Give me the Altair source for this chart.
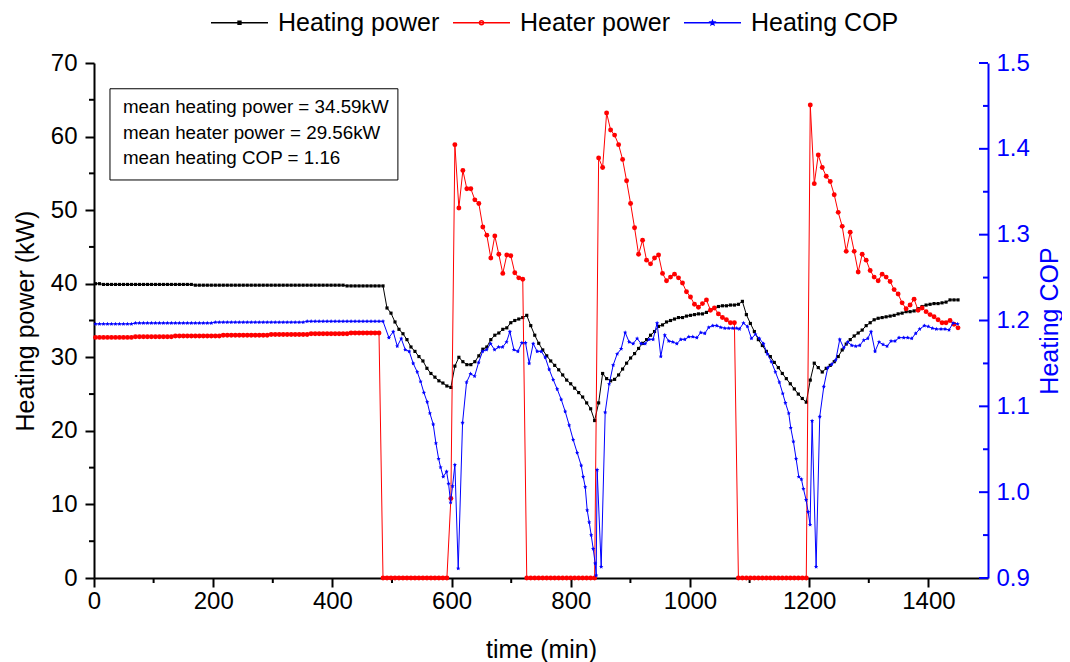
import altair as alt
import pandas as pd

# ---------------- data ----------------
SERIES = ["Heating power", "Heater power", "Heating COP"]
COLORS = ["black", "red", "blue"]

# logger sampling (min) for heating / heater power
T_START = 2.5
T_STEP = 6.7

HEATING_POWER = [
    40.0, 40.0, 39.9, 39.9, 39.9, 39.9, 39.9, 39.9, 39.9, 39.9,
    39.9, 39.9, 39.9, 39.9, 39.9, 39.9, 39.9, 39.9, 39.9, 39.9,
    39.9, 39.9, 39.9, 39.9, 39.9, 39.8, 39.8, 39.8, 39.8, 39.8,
    39.8, 39.8, 39.8, 39.8, 39.8, 39.8, 39.8, 39.8, 39.8, 39.8,
    39.8, 39.8, 39.8, 39.8, 39.8, 39.8, 39.8, 39.8, 39.8, 39.8,
    39.8, 39.8, 39.8, 39.8, 39.8, 39.8, 39.8, 39.8, 39.8, 39.8,
    39.8, 39.8, 39.8, 39.7, 39.7, 39.7, 39.7, 39.7, 39.7, 39.7,
    39.7, 39.7, 39.7,
    36.7, 36.0, 34.8, 33.8, 33.2, 32.4, 31.4, 30.8, 30.1, 29.5,
    28.5, 27.8, 27.3, 26.8, 26.5, 26.1, 25.9, 28.8, 30.0, 29.4,
    29.0, 29.0, 29.4, 30.2, 31.1, 31.4, 32.4, 33.0, 33.3, 33.8,
    34.0, 34.7, 35.0, 35.2, 35.4, 35.7, 34.3, 33.0, 31.9, 31.0,
    30.2, 29.5, 28.9, 28.3, 27.6, 26.9, 26.4, 25.8, 25.2, 24.6,
    23.8, 23.0, 21.4, 23.8, 27.8, 27.1, 26.8, 27.0, 27.6, 28.4,
    29.2, 29.9, 30.5, 31.2, 31.9, 32.4, 33.0, 33.5, 34.2, 34.4,
    34.8, 35.0, 35.2, 35.4, 35.4, 35.6, 35.7, 35.8, 35.9, 35.9,
    36.1, 36.4, 36.7, 36.9, 37.0, 37.0, 37.1, 37.1, 37.2, 37.6,
    35.8, 34.6, 33.5, 32.4, 31.6, 30.8, 30.1, 29.3, 28.6, 27.8,
    27.1, 26.4, 25.7, 25.0, 24.4, 23.9, 26.9, 29.2, 28.6, 28.0,
    28.5, 28.9, 29.4, 30.1, 31.0, 31.8, 32.4, 32.9, 33.3, 33.7,
    34.3, 34.7, 35.1, 35.3, 35.4, 35.5, 35.6, 35.7, 35.9, 36.0,
    36.2, 36.2, 36.3, 36.6, 36.9, 37.1, 37.2, 37.3, 37.3, 37.4,
    37.5, 37.8, 37.8, 37.8,
]

HEATER_POWER = [
    32.7, 32.7, 32.7, 32.7, 32.7, 32.7, 32.7, 32.7, 32.7, 32.7,
    32.8, 32.8, 32.8, 32.8, 32.8, 32.8, 32.8, 32.8, 32.8, 32.8,
    32.9, 32.9, 32.9, 32.9, 32.9, 32.9, 32.9, 32.9, 32.9, 32.9, 32.9, 32.9,
    33.0, 33.0, 33.0, 33.0, 33.0, 33.0, 33.0, 33.0, 33.0, 33.0, 33.0, 33.0,
    33.1, 33.1, 33.1, 33.1, 33.1, 33.1, 33.1, 33.1, 33.1, 33.1,
    33.2, 33.2, 33.2, 33.2, 33.2, 33.2, 33.2, 33.2, 33.2, 33.2,
    33.3, 33.3, 33.3, 33.3, 33.3, 33.3, 33.3, 33.3,
    0.0, 0.0, 0.0, 0.0, 0.0, 0.0, 0.0, 0.0, 0.0, 0.0,
    0.0, 0.0, 0.0, 0.0, 0.0, 0.0, 0.0,
    10.8, 58.9, 50.3, 55.4, 52.9, 52.9, 51.4, 50.9, 47.7, 46.6,
    43.5, 46.5, 44.0, 41.4, 43.9, 43.8, 41.5, 40.8, 40.6,
    0.0, 0.0, 0.0, 0.0, 0.0, 0.0, 0.0, 0.0, 0.0, 0.0,
    0.0, 0.0, 0.0, 0.0, 0.0, 0.0, 0.0, 0.0,
    57.1, 55.8, 63.2, 60.9, 60.2, 58.9, 56.9, 54.0, 50.9, 47.6,
    44.0, 45.9, 43.2, 42.7, 43.5, 43.9, 41.4, 40.4, 40.9, 41.3,
    40.8, 40.1, 38.9, 38.2, 37.2, 36.8, 37.3, 37.8, 36.4, 36.7,
    35.9, 35.4, 35.1, 34.7, 34.7,
    0.0, 0.0, 0.0, 0.0, 0.0, 0.0, 0.0, 0.0, 0.0, 0.0,
    0.0, 0.0, 0.0, 0.0, 0.0, 0.0, 0.0, 0.0,
    64.3, 53.6, 57.5, 55.8, 54.6, 53.9, 52.1, 49.7, 47.8, 44.4,
    47.0, 44.4, 41.6, 44.0, 43.2, 41.8, 40.9, 40.4, 41.3, 40.9,
    40.3, 39.2, 38.6, 37.4, 36.6, 37.1, 37.9, 36.4, 36.7, 36.2,
    35.8, 35.5, 35.1, 34.7, 34.7, 35.0, 34.5, 34.0,
]

COP_STEADY = [
    1.196, 1.196, 1.196, 1.196, 1.196, 1.196, 1.196, 1.196, 1.196, 1.196,
    1.197, 1.197, 1.197, 1.197, 1.197, 1.197, 1.197, 1.197, 1.197, 1.197,
    1.197, 1.197, 1.197, 1.197, 1.197, 1.197, 1.197, 1.197, 1.197, 1.197,
    1.198, 1.198, 1.198, 1.198, 1.198, 1.198, 1.198, 1.198, 1.198, 1.198,
    1.198, 1.198, 1.198, 1.198, 1.198, 1.198, 1.198, 1.198, 1.198, 1.198,
    1.198, 1.198, 1.198,
    1.199, 1.199, 1.199, 1.199, 1.199, 1.199, 1.199, 1.199, 1.199, 1.199,
    1.199, 1.199, 1.199, 1.199, 1.199, 1.199, 1.199, 1.199, 1.199, 1.199,
]

COP_TIME = [
    494.8, 502.1, 508.8, 515.5, 522.2, 528.9, 535.6, 542.4, 548.0, 553.5,
    559.1, 563.6, 569.2, 573.7, 578.2, 581.5, 586.0, 591.6, 594.9, 598.3,
    601.6, 605.5, 611.1, 618.4, 625.1, 631.8, 638.6, 645.3, 652.0, 658.7,
    665.4, 672.1, 678.8, 685.5, 692.2, 697.8, 704.5, 711.2, 717.9, 724.0,
    730.2, 736.9, 743.6, 750.4, 757.1, 763.8, 770.5, 777.2, 783.9, 790.6,
    797.3, 804.0, 810.7, 817.5, 820.8, 824.2, 827.5, 830.9, 834.2, 837.6,
    840.9, 842.6, 844.2, 851.0, 857.7, 864.4, 871.1, 877.8, 884.5, 891.2,
    897.9, 904.6, 911.3, 918.0, 924.7, 931.4, 938.1, 944.8, 951.0, 957.7,
    964.4, 971.1, 977.9, 984.6, 991.3, 998.0, 1004.7, 1011.4, 1018.1, 1024.8,
    1031.5, 1038.2, 1044.9, 1051.6, 1058.4, 1065.1, 1071.8, 1078.5, 1083.0, 1089.7,
    1096.4, 1103.1, 1109.8, 1116.5, 1123.2, 1129.9, 1136.6, 1143.3, 1150.0, 1155.6,
    1160.1, 1165.7, 1169.0, 1173.5, 1178.0, 1182.5, 1187.0, 1190.3, 1194.8, 1198.2,
    1201.5, 1204.9, 1211.6, 1217.7, 1224.5, 1231.2, 1237.9, 1244.6, 1251.3, 1258.0,
    1264.7, 1271.4, 1278.1, 1284.8, 1291.5, 1298.2, 1303.8, 1310.5, 1317.2, 1323.9,
    1330.6, 1337.3, 1344.0, 1350.7, 1358.6, 1365.3, 1372.0, 1378.7, 1385.4, 1393.2,
    1399.9, 1406.6, 1413.3, 1421.2, 1427.9, 1434.6, 1441.3, 1449.1,
]
COP_VALUES = [
    1.180, 1.187, 1.170, 1.179, 1.166, 1.164, 1.150, 1.140, 1.129, 1.116,
    1.105, 1.092, 1.079, 1.057, 1.039, 1.029, 1.018, 1.024, 1.010, 0.988,
    1.007, 1.032, 0.911, 1.081, 1.128, 1.138, 1.135, 1.151, 1.164, 1.166,
    1.173, 1.166, 1.169, 1.169, 1.175, 1.187, 1.166, 1.164, 1.174, 1.174,
    1.150, 1.173, 1.164, 1.164, 1.157, 1.143, 1.131, 1.120, 1.108, 1.094,
    1.078, 1.061, 1.046, 1.031, 1.018, 1.006, 0.979, 0.965, 0.950, 0.934,
    0.917, 0.903, 1.026, 0.913, 1.093, 1.126, 1.148, 1.161, 1.167, 1.186,
    1.175, 1.173, 1.179, 1.173, 1.173, 1.178, 1.178, 1.197, 1.158, 1.183,
    1.176, 1.175, 1.173, 1.178, 1.178, 1.181, 1.181, 1.180, 1.186, 1.185,
    1.192, 1.194, 1.194, 1.192, 1.191, 1.191, 1.191, 1.191, 1.190, 1.197,
    1.193, 1.179, 1.184, 1.179, 1.173, 1.161, 1.152, 1.140, 1.128, 1.115,
    1.104, 1.092, 1.075, 1.059, 1.039, 1.018, 1.015, 1.004, 0.991, 0.977,
    0.962, 1.083, 0.913, 1.088, 1.123, 1.145, 1.149, 1.154, 1.178, 1.168,
    1.175, 1.171, 1.170, 1.171, 1.177, 1.179, 1.187, 1.164, 1.175, 1.172,
    1.170, 1.176, 1.176, 1.180, 1.180, 1.180, 1.179, 1.185, 1.190, 1.194,
    1.193, 1.191, 1.190, 1.190, 1.190, 1.189, 1.197, 1.196,
]

BOX_LINES = ["mean heating power = 34.59kW",
             "mean heater power = 29.56kW",
             "mean heating COP = 1.16"]

X_MAJOR = [0, 200, 400, 600, 800, 1000, 1200, 1400]
X_MINOR = [100, 300, 500, 700, 900, 1100, 1300]
YL_MAJOR = [0, 10, 20, 30, 40, 50, 60, 70]
YL_MINOR = [5, 15, 25, 35, 45, 55, 65]
YR_MAJOR = [0.9, 1.0, 1.1, 1.2, 1.3, 1.4, 1.5]
YR_MINOR = [0.95, 1.05, 1.15, 1.25, 1.35, 1.45]

assert len(HEATING_POWER) == len(HEATER_POWER)
assert len(COP_TIME) == len(COP_VALUES)

N = len(HEATING_POWER)
TIME = [round(T_START + T_STEP * i, 1) for i in range(N)]

# ---------------- layout / style ----------------
W, H = 894, 515
FONT = "Liberation Sans"
BOX_T = (26.8, 509.9)
BOX_KW = (54.1, 66.5)
TEXT_T = 48.6
TEXT_KW = [64.0, 60.5, 57.1]

df = pd.DataFrame({"t": TIME, "hp": HEATING_POWER, "hr": HEATER_POWER})
df_cop = pd.DataFrame({"t": TIME[:len(COP_STEADY)] + COP_TIME,
                       "cop": COP_STEADY + COP_VALUES})

xs = alt.Scale(domain=[0, 1500], nice=False, zero=False)
yls = alt.Scale(domain=[0, 70], nice=False)
yrs = alt.Scale(domain=[0.9, 1.5], nice=False, zero=False)

x_axis = alt.Axis(values=X_MAJOR, format="d", title="time (min)", grid=False,
                  tickSize=9, tickWidth=2, tickColor="black",
                  domainWidth=2, domainColor="black", labelFlush=False,
                  labelFont=FONT, labelFontSize=24, labelColor="black", labelPadding=2,
                  titleFont=FONT, titleFontSize=25, titleFontWeight="normal",
                  titleColor="black", titlePadding=24)
yl_axis = alt.Axis(values=YL_MAJOR, format="d", title="Heating power (kW)", grid=False,
                   tickSize=9, tickWidth=2, tickColor="black",
                   domainWidth=2, domainColor="black", labelFlush=False,
                   labelFont=FONT, labelFontSize=24, labelColor="black", labelPadding=8,
                   titleFont=FONT, titleFontSize=25, titleFontWeight="normal",
                   titleColor="black", titlePadding=12)
yr_axis = alt.Axis(orient="right", values=YR_MAJOR, format=".1f", title="Heating COP",
                   grid=False, ticks=False, labelFlush=False,
                   domainWidth=2, domainColor="blue",
                   labelFont=FONT, labelFontSize=24, labelColor="blue", labelPadding=8,
                   titleFont=FONT, titleFontSize=25, titleFontWeight="normal",
                   titleColor="blue", titlePadding=8, titleAngle=270, titleBaseline="top")


def X(field):
    return alt.X(field, scale=xs, axis=x_axis, title="time (min)")


def YL(field):
    return alt.Y(field, scale=yls, axis=yl_axis, title="Heating power (kW)")


def YR(field):
    return alt.Y(field, scale=yrs, axis=yr_axis, title="Heating COP")


STAR = ("M0,-1L0.29,-0.36L0.95,-0.31L0.45,0.14L0.59,0.81L0,0.45"
        "L-0.59,0.81L-0.45,0.14L-0.95,-0.31L-0.29,-0.36Z")

black = alt.Chart(df).mark_line(
    color="black", strokeWidth=1,
    point=alt.OverlayMarkDef(shape="square", size=10, filled=True, color="black", opacity=1),
).encode(x=X("t:Q"), y=YL("hp:Q"))

red = alt.Chart(df).mark_line(
    color="red", strokeWidth=1,
    point=alt.OverlayMarkDef(shape="circle", size=24, filled=True, color="red", opacity=1),
).encode(x=X("t:Q"), y=YL("hr:Q"))

blue = alt.Chart(df_cop).mark_line(
    color="blue", strokeWidth=1,
    point=alt.OverlayMarkDef(shape=STAR, size=20, filled=True, color="blue", opacity=1),
).encode(x=X("t:Q"), y=YR("cop:Q"))

# legend: line + marker symbols
SYMBOLS = [
    "M-1,0H1M-0.05,-0.05H0.05V0.05H-0.05Z",
    "M-1,0H1M0.07,0A0.07,0.07,0,1,1,-0.07,0A0.07,0.07,0,1,1,0.07,0Z",
    "M-1,0H1M0,-0.07L0.02,-0.022L0.067,-0.022L0.029,0.009L0.042,0.057L0,0.028"
    "L-0.042,0.057L-0.029,0.009L-0.067,-0.022L-0.02,-0.022Z",
]
leg = alt.Legend(title=None, orient="none", legendX=116, legendY=-70,
                 direction="horizontal", labelFont=FONT, labelFontSize=25,
                 labelColor="black", symbolSize=3249, symbolStrokeWidth=1.5,
                 labelOffset=9, columnPadding=10, labelLimit=500, padding=0,
                 symbolOpacity=1)
legend_layer = alt.Chart(pd.DataFrame({"series": SERIES})).transform_filter(
    "false"
).mark_point(filled=False, opacity=1, strokeWidth=1.5).encode(
    color=alt.Color("series:N", scale=alt.Scale(domain=SERIES, range=COLORS), legend=leg),
    shape=alt.Shape("series:N", scale=alt.Scale(domain=SERIES, range=SYMBOLS), legend=leg),
)

# annotation box
box = alt.Chart(pd.DataFrame({"t1": [BOX_T[0]], "t2": [BOX_T[1]],
                              "k1": [BOX_KW[0]], "k2": [BOX_KW[1]]})).mark_rect(
    fill="white", stroke="black", strokeWidth=1
).encode(x=X("t1:Q"), x2="t2", y=YL("k1:Q"), y2="k2")
box_text = alt.Chart(pd.DataFrame({"t": [TEXT_T] * 3, "k": TEXT_KW, "label": BOX_LINES})).mark_text(
    align="left", baseline="middle", font=FONT, fontSize=18.8, color="black"
).encode(x=X("t:Q"), y=YL("k:Q"), text="label:N")

# minor ticks
x_minor = alt.Chart(pd.DataFrame({"t": X_MINOR})).mark_rule(color="black", strokeWidth=2).encode(
    x=X("t:Q"), y=alt.value(H), y2=alt.value(H + 5))
yl_minor = alt.Chart(pd.DataFrame({"hp": YL_MINOR})).mark_rule(color="black", strokeWidth=2).encode(
    y=YL("hp:Q"), x=alt.value(-5), x2=alt.value(0))
yr_major = alt.Chart(pd.DataFrame({"cop": YR_MAJOR})).mark_rule(color="blue", strokeWidth=2).encode(
    y=YR("cop:Q"), x=alt.value(W - 9), x2=alt.value(W))
yr_minor = alt.Chart(pd.DataFrame({"cop": YR_MINOR})).mark_rule(color="blue", strokeWidth=2).encode(
    y=YR("cop:Q"), x=alt.value(W - 5), x2=alt.value(W))

left = alt.layer(box, box_text, x_minor, yl_minor, black, red, legend_layer)
right = alt.layer(blue, yr_major, yr_minor)

chart = alt.layer(left, right).resolve_scale(y="independent").properties(
    width=W, height=H,
    autosize=alt.AutoSizeParams(type="none"),
    padding={"left": 86, "top": 55, "right": 74, "bottom": 84},
    background="white",
).configure_view(strokeWidth=0)

chart.save("out.html", embed_options={"renderer": "svg", "actions": False})
